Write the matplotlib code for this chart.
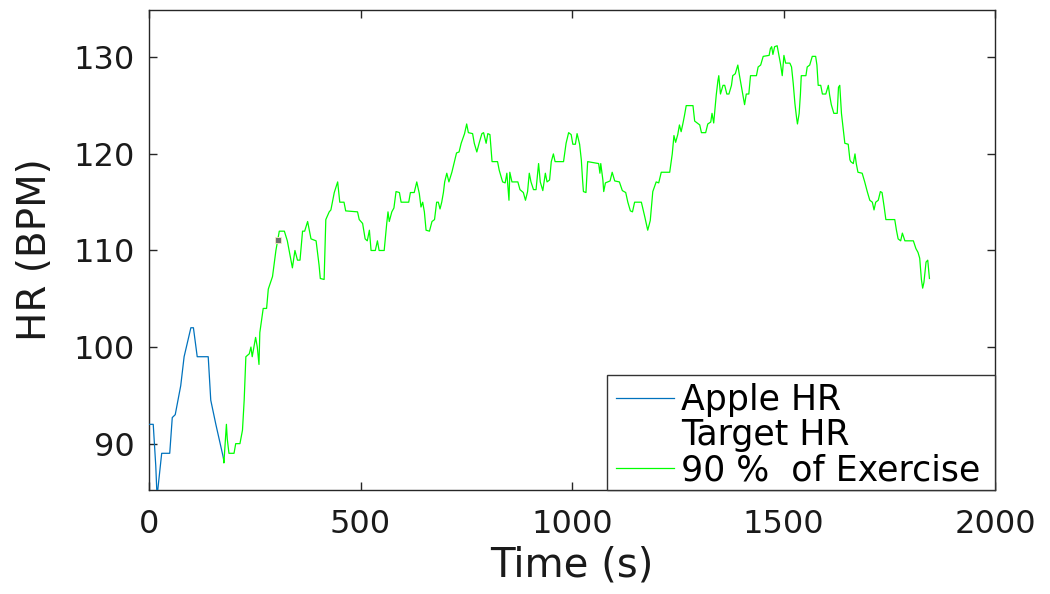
import matplotlib
matplotlib.use("Agg")
import matplotlib.pyplot as plt
from matplotlib.lines import Line2D
from matplotlib.patches import Rectangle

# ---- data ----
apple_t = [0, 10, 16, 19, 30, 49, 55, 62, 75, 83, 99, 105, 114, 140, 146, 158, 176]
apple_hr = [92, 92, 87.7, 84.5, 89, 89, 92.7, 93, 96, 99, 102, 102, 99, 99, 94.5, 92, 88.5]

ex_t = [176, 177, 183, 185, 189, 201, 205, 215, 221, 225, 229, 237, 241, 244, 248, 252, 256,
        260, 262, 270, 278, 282, 292, 300, 308, 320, 327, 333, 339, 345, 351, 357, 363, 368,
        375, 383, 395, 402, 405, 414, 418, 426, 430, 438, 446, 451, 461, 465, 493, 497, 505,
        511, 516, 521, 525, 535, 540, 544, 556, 562, 565, 568, 574, 579, 584, 592, 596, 614,
        618, 627, 633, 639, 643, 647, 651, 655, 663, 669, 675, 680, 684, 688, 692, 696, 699,
        704, 709, 716, 722, 727, 733, 738, 746, 751, 755, 765, 769, 775, 781, 787, 791, 797,
        801, 806, 811, 824, 828, 836, 842, 846, 851, 853, 858, 872, 877, 885, 890, 895, 899,
        903, 909, 915, 921, 925, 931, 937, 941, 947, 951, 956, 960, 980, 986, 992, 998, 1002,
        1008, 1012, 1018, 1022, 1025, 1027, 1033, 1037, 1063, 1066, 1068, 1073, 1075, 1079,
        1090, 1095, 1101, 1112, 1119, 1127, 1132, 1138, 1143, 1148, 1164, 1172, 1179, 1185,
        1191, 1199, 1205, 1211, 1231, 1237, 1241, 1245, 1250, 1254, 1258, 1262, 1266, 1270,
        1286, 1290, 1302, 1306, 1316, 1321, 1328, 1331, 1335, 1341, 1345, 1347, 1351, 1357,
        1361, 1366, 1371, 1377, 1380, 1386, 1392, 1396, 1400, 1404, 1408, 1412, 1418, 1422,
        1436, 1440, 1446, 1452, 1466, 1469, 1472, 1475, 1479, 1485, 1490, 1493, 1497, 1501,
        1505, 1515, 1519, 1523, 1527, 1531, 1533, 1537, 1540, 1542, 1553, 1556, 1562, 1568,
        1576, 1579, 1582, 1588, 1592, 1600, 1606, 1609, 1613, 1619, 1627, 1630, 1633, 1637,
        1641, 1645, 1653, 1657, 1659, 1665, 1669, 1672, 1676, 1686, 1692, 1698, 1704, 1710,
        1714, 1718, 1724, 1729, 1733, 1738, 1742, 1763, 1767, 1771, 1777, 1781, 1787, 1807,
        1813, 1818, 1822, 1826, 1829, 1832, 1837, 1841, 1845]
ex_hr = [88.5, 88, 92, 90.5, 89, 89, 90, 90, 91.4, 94.5, 99, 99.3, 100, 99, 100, 101, 100,
         98.2, 101.5, 104, 104, 106, 107.3, 110, 112, 112, 111, 109.6, 108.2, 110, 109, 109, 112, 112,
         113, 111.2, 111, 108.5, 107.1, 107, 113.2, 114, 114.2, 116, 117.1, 115, 115, 114.1, 114, 113.2, 112.8,
         111.2, 111, 112.1, 110, 110, 111, 110, 110, 112.8, 114, 113, 114, 114.4, 116.1, 116, 115, 115,
         116, 116, 117.1, 115.9, 114.5, 115, 114, 112.1, 112, 113, 113.2, 115, 115, 114.3, 115, 116, 117.1,
         118, 117.1, 118.1, 119.2, 120.1, 120.2, 121.1, 122.1, 123.1, 122.2, 122.1, 121.1, 120.2, 121.2, 122.1, 122.2, 121.1,
         122.1, 122, 119.2, 119.2, 118.3, 117.1, 117, 118, 115.2, 118.1, 117.1, 117.1, 116.3, 116, 115.2, 116.1, 118,
         117.1, 116.3, 116.3, 119, 117.1, 116.2, 118, 117.1, 117.3, 119.2, 120, 119.2, 119.2, 121.1, 122.2, 122, 121,
         121, 122.1, 121, 119.4, 117.3, 116.1, 116, 119.2, 119, 118, 119, 117.3, 116.1, 117,
         117.2, 118.1, 117.2, 117.1, 116.2, 116, 115, 114.1, 114, 115, 115, 113.5, 112.1, 113.1,
         116.1, 117.1, 117, 118.1, 118.1, 120, 121.9, 121.2, 122, 123, 122.3, 123.1, 124, 125,
         125, 123.4, 123, 122.2, 122.2, 123.1, 123.3, 124.2, 123.2, 126.1, 127.6, 128.1, 126.2, 127.1,
         127.1, 126.2, 126.2, 127.1, 128.1, 128.3, 129.2, 128.1, 127.1, 126.1, 125.1, 126.2, 126.2, 128.1,
         128.1, 129, 129.2, 130.1, 130.2, 130.9, 131.1, 130.3, 131.1, 131.2, 130, 129.3, 128.1, 130.2,
         129.4, 129.4, 129, 127.3, 125.2, 123.7, 123.1, 124.2, 126.2, 128.1, 128.1, 129, 129.2, 130.1,
         130.1, 129.2, 127.1, 127.1, 126.2, 126.2, 127.1, 126.1, 125.1, 124.2, 124.2, 126.9, 127.1, 124.2,
         122.6, 121.1, 121, 119.4, 119.2, 119, 120, 119, 118.1, 118, 117.1, 116.1, 115.2, 115,
         114.2, 115, 115.2, 116.1, 116, 114.5, 113.2, 113.2, 112.1, 111.2, 111, 111.8, 111, 111,
         110.2, 109.8, 109.2, 107, 106.1, 106.7, 108.8, 109, 107.1]

target_t = [306]
target_hr = [111.1]

x_ticks = [0, 500, 1000, 1500, 2000]
y_ticks = [90, 100, 110, 120, 130]
labels = ["Apple HR", "Target HR", "90 %  of Exercise"]

# ---- figure ----
plt.rcParams['font.family'] = ['DejaVu Sans']
fig = plt.figure(figsize=(10.5, 5.94), dpi=100)
ax = fig.add_axes([149 / 1050, 1 - 490 / 594, (995 - 149) / 1050, (490 - 10) / 594])

blue = '#0072BD'
green = '#00FF00'
ax.plot(apple_t, apple_hr, color=blue, lw=0.9, zorder=3)
ax.plot(ex_t, ex_hr, color=green, lw=0.9, zorder=3)
ax.plot(target_t, target_hr, 's', color='#707070', markersize=4.5,
        markeredgecolor='#f3ecc0', markeredgewidth=0.6, zorder=4)

ax.set_xlim(0, 2000)
ax.set_ylim(85.2, 134.9)
ax.set_xticks(x_ticks)
ax.set_yticks(y_ticks)

ax.tick_params(direction='in', length=6, width=1, colors='#262626', top=True, right=True,
               labelsize=23)
ax.tick_params(axis='x', pad=14)
ax.tick_params(axis='y', pad=10)
for lab in ax.get_xticklabels() + ax.get_yticklabels():
    lab.set_color('#1a1a1a')
for s in ax.spines.values():
    s.set_color('#262626')
    s.set_linewidth(1)

ax.set_xlabel('Time (s)', fontsize=29, color='#1a1a1a', labelpad=4)
ax.set_ylabel('HR (BPM)', fontsize=28, color='#1a1a1a', labelpad=14)

# legend frame (MATLAB-style box tucked into the lower-right corner)
ax_w, ax_h = 995 - 149, 490 - 10
frame = Rectangle(((607 - 149) / ax_w, 0), (995 - 607) / ax_w, (490 - 375) / ax_h,
                  transform=ax.transAxes, facecolor='white', edgecolor='#333333',
                  linewidth=1, zorder=5, clip_on=False)
ax.add_patch(frame)

handles = [Line2D([], [], color=blue, lw=0.9),
           Line2D([], [], linestyle='none'),
           Line2D([], [], color=green, lw=0.9)]
leg = ax.legend(handles, labels, loc='upper left',
                bbox_to_anchor=((616 - 149) / ax_w, (490 - 383) / ax_h),
                borderaxespad=0, borderpad=0, fontsize=25, frameon=False,
                handlelength=1.67, handletextpad=0.2, labelspacing=0.03)
leg.set_zorder(6)

fig.savefig('out.png', dpi=100)
